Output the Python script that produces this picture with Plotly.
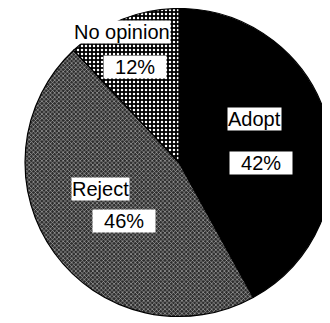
import numpy as np
import plotly.graph_objects as go

labels = ["Adopt", "Reject", "No opinion"]
values = [42, 46, 12]
pct_text = ["42%", "46%", "12%"]

W, H = 330, 323
ml, mr, mt, mb = 17, 5, 0, 14
side_w = W - ml - mr
side_h = H - mt - mb
R = min(side_w, side_h) / 2
cx, cy = ml + side_w / 2, mt + side_h / 2

fig = go.Figure()
fig.add_trace(go.Pie(
    labels=labels,
    values=values,
    sort=False,
    direction="clockwise",
    rotation=0,
    textinfo="none",
    hoverinfo="label+percent",
    marker=dict(
        colors=["#000000", "#3a3a3a", "#000000"],
        line=dict(color="#000000", width=1.2),
        pattern=dict(
            shape=["", "x", "."],
            fgcolor=["#000000", "#b8b8b8", "#ffffff"],
            bgcolor=["#000000", "#2e2e2e", "#000000"],
            size=[4, 3, 4],
            solidity=[0.3, 0.35, 0.3],
        ),
    ),
    showlegend=False,
))

# label placement along each slice's mid angle
radial = [0.54, 0.5, 0.82]
name_shift = [(-5, 23), (-16, 19), (-11, 13)]
pct_shift = [(1, -21), (7, -13), (2, -22)]
cum = np.cumsum([0] + values[:-1])
total = sum(values)
font = dict(family="Liberation Sans, Arial", size=20, color="black")
for i, lab in enumerate(labels):
    ang = 2 * np.pi * (cum[i] + values[i] / 2) / total
    px = cx + radial[i] * R * np.sin(ang)
    py = cy - radial[i] * R * np.cos(ang)
    xp = (px - ml) / side_w
    yp = 1 - (py - mt) / side_h
    for txt, (dx, dy) in [(lab, name_shift[i]), (pct_text[i], pct_shift[i])]:
        pad = "" if txt == lab else "  "
        fig.add_annotation(x=xp, y=yp, xref="paper", yref="paper",
                           xanchor="center", yanchor="middle",
                           text=pad + txt + pad, showarrow=False,
                           xshift=dx, yshift=dy, font=font,
                           bgcolor="white", borderpad=0)

fig.update_layout(
    width=W, height=H,
    margin=dict(l=ml, r=mr, t=mt, b=mb),
    paper_bgcolor="white",
    plot_bgcolor="white",
)
fig.write_html("out.html")
